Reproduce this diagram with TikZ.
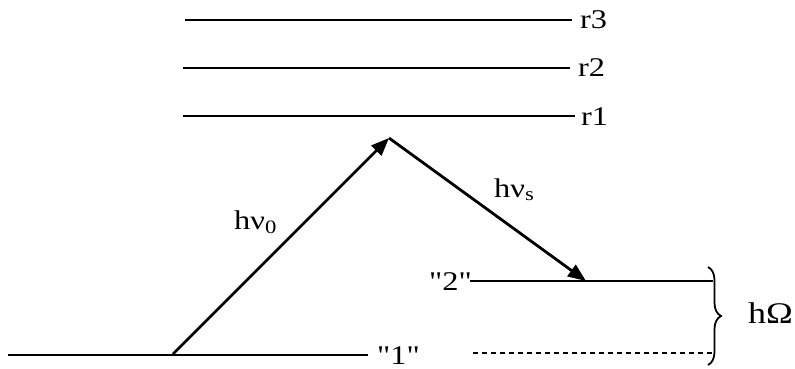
\documentclass[tikz,border=0pt]{standalone}
\usepackage{fontspec}
\setmainfont{Liberation Serif}[Ligatures=TeXOff,FakeStretch=1.2]
\usetikzlibrary{arrows.meta,decorations.pathreplacing}
\begin{document}
\begin{tikzpicture}[x=1pt,y=-1pt,
  level/.style={line width=2.8pt},
  dotlevel/.style={line width=2.4pt,dash pattern=on 5pt off 4pt},
  photon/.style={line width=2.8pt,-{Triangle[length=18pt,width=14pt]}},
  lab/.style={inner sep=0pt,font=\fontsize{27}{30}\selectfont},
  plab/.style={inner sep=0pt,font=\fontsize{27}{30}\selectfont}]
\useasboundingbox (0,0) rectangle (795,369);
% upper levels
\coordinate (r3a) at (185,20);
\coordinate (r3b) at (572,20);
\coordinate (r2a) at (183,68);
\coordinate (r2b) at (570,68);
\coordinate (r1a) at (183,116);
\coordinate (r1b) at (575,116);
\draw[level] (r3a) -- (r3b);
\draw[level] (r2a) -- (r2b);
\draw[level] (r1a) -- (r1b);
\node[lab,anchor=base west] (r3) at (580,29) {r3};
\node[lab,anchor=base west] (r2) at (578,77) {r2};
\node[lab,anchor=base west] (r1) at (581,125) {r1};
% ground level 1
\coordinate (g1a) at (8,355);
\coordinate (g1b) at (368,355);
\draw[level] (g1a) -- (g1b);
\node[lab,anchor=base west] (l1) at (377,364) {"1"};
% level 2
\coordinate (g2a) at (470,281);
\coordinate (g2b) at (713,281);
\draw[level] (g2a) -- (g2b);
\node[lab,anchor=base east] (l2) at (472,290) {"2"};
% dotted level
\coordinate (gda) at (473,353);
\coordinate (gdb) at (713,353);
\draw[dotlevel] (gda) -- (gdb);
% photons
\coordinate (start) at (173,354);
\coordinate (apex) at (389,138);
\coordinate (endp) at (586,281);
\draw[photon] (start) -- (apex);
\draw[photon] (apex) -- (endp);
\node[plab,anchor=base west] (hv0) at (234,229) {hν\textsubscript{0}};
\node[plab,anchor=base west] (hvs) at (494,197) {hν\textsubscript{s}};
% brace
\coordinate (bt) at (708,267);
\coordinate (bb) at (708,365);
\draw[line width=1.8pt,decorate,decoration={brace,amplitude=13pt}] (bt) -- (bb);
\node[inner sep=0pt,anchor=base west,font=\fontsize{30}{34}\selectfont] (hO) at (748,323) {hΩ};
\end{tikzpicture}
\end{document}
